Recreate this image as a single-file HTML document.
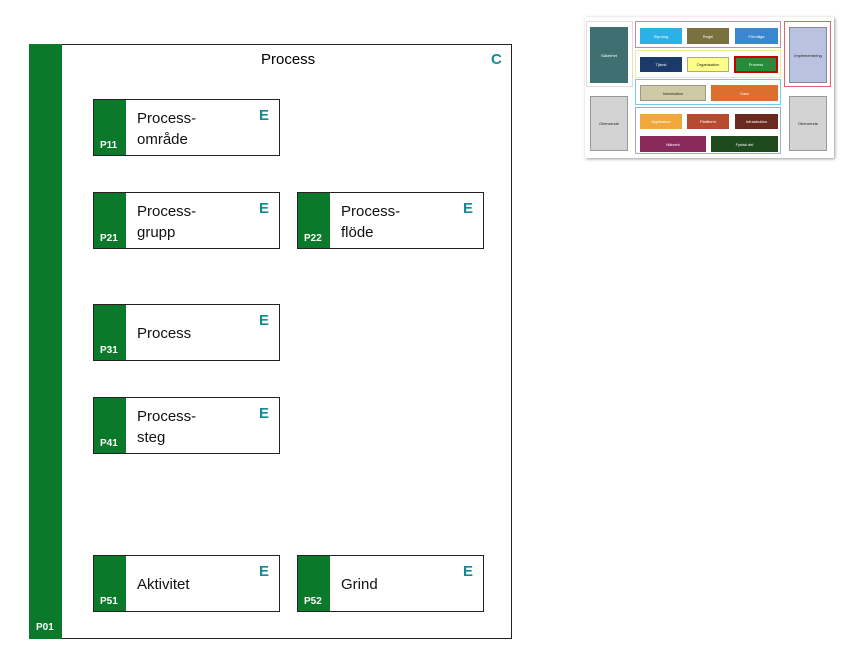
<!DOCTYPE html>
<html><head><meta charset="utf-8"><style>
body{margin:0;width:857px;height:664px;background:#fff;position:relative;font-family:"Liberation Sans",sans-serif;overflow:hidden}
.a{position:absolute;box-sizing:border-box}
.card{position:absolute;width:187px;height:57px;border:1px solid #222;background:#fff;box-sizing:border-box}
.card .g{position:absolute;left:0;top:0;bottom:0;width:32px;background:#0a7a2a}
.card .id{position:absolute;left:6px;bottom:4px;color:#fff;font-size:10px;font-weight:bold}
.card .t{position:absolute;left:43px;top:8px;font-size:15px;line-height:21px;color:#111}
.card .e{position:absolute;right:10px;top:7px;color:#148a94;font-weight:bold;font-size:15px}
.t1{line-height:57px!important;top:0!important}
.th div{position:absolute;box-sizing:border-box;font-size:4px;color:#fff;display:flex;align-items:center;justify-content:center;text-align:center}
.th .lbl{color:#333;font-size:3px;align-items:flex-start}
</style></head><body>
<div class="a" style="left:29px;top:44px;width:483px;height:595px;border:1px solid #222"></div>
<div class="a" style="left:29px;top:44px;width:33px;height:595px;background:#0a7a2a"></div>
<div class="a" style="left:36px;top:622px;color:#fff;font-size:10px;font-weight:bold">P01</div>
<div class="a" style="left:261px;top:51px;font-size:15px">Process</div>
<div class="a" style="left:491px;top:51px;font-size:15px;color:#148a94;font-weight:bold">C</div>

<div class="card" style="left:93px;top:99px"><div class="g"></div><div class="id">P11</div><div class="t">Process-<br>område</div><div class="e">E</div></div>
<div class="card" style="left:93px;top:192px"><div class="g"></div><div class="id">P21</div><div class="t">Process-<br>grupp</div><div class="e">E</div></div>
<div class="card" style="left:297px;top:192px"><div class="g"></div><div class="id">P22</div><div class="t">Process-<br>flöde</div><div class="e">E</div></div>
<div class="card" style="left:93px;top:304px"><div class="g"></div><div class="id">P31</div><div class="t t1">Process</div><div class="e">E</div></div>
<div class="card" style="left:93px;top:397px"><div class="g"></div><div class="id">P41</div><div class="t">Process-<br>steg</div><div class="e">E</div></div>
<div class="card" style="left:93px;top:555px"><div class="g"></div><div class="id">P51</div><div class="t t1">Aktivitet</div><div class="e">E</div></div>
<div class="card" style="left:297px;top:555px"><div class="g"></div><div class="id">P52</div><div class="t t1">Grind</div><div class="e">E</div></div>

<div class="a th" style="left:583px;top:15px;width:255px;height:145px">
<div style="left:2px;top:2px;width:249px;height:141px;background:#fff;box-shadow:1px 1px 3px #999"></div>
<div style="left:3px;top:6px;width:47px;height:66px;border:1px solid #ddd"></div>
<div style="left:7px;top:12px;width:38px;height:56px;background:#3f6f70">Säkerhet</div>
<div style="left:7px;top:81px;width:38px;height:55px;background:#d3d3d3;color:#222;border:1px solid #999">Oberoende</div>
<div style="left:201px;top:6px;width:47px;height:66px;border:1px solid #d66"></div>
<div style="left:206px;top:12px;width:38px;height:56px;background:#b9c3e0;color:#222;border:1px solid #889">Implementering</div>
<div style="left:206px;top:81px;width:38px;height:55px;background:#d3d3d3;color:#222;border:1px solid #999">Oberoende</div>
<div style="left:52px;top:6px;width:146px;height:27px;border:1px solid #c8a"></div>
<div style="left:57px;top:13px;width:42px;height:16px;background:#2cb0e8">Styrning</div>
<div style="left:104px;top:13px;width:42px;height:16px;background:#7a7040">Regel</div>
<div style="left:152px;top:13px;width:43px;height:16px;background:#3a86d0">Förmåga</div>
<div style="left:52px;top:35px;width:146px;height:28px;border:1px solid #ee9"></div>
<div style="left:57px;top:42px;width:42px;height:15px;background:#1a3a6a">Tjänst</div>
<div style="left:104px;top:42px;width:42px;height:15px;background:#ffff88;color:#222;border:1px solid #aa8">Organisation</div>
<div style="left:151px;top:41px;width:44px;height:17px;background:#2a8a3a;border:2px solid #c00">Process</div>
<div style="left:52px;top:64px;width:146px;height:26px;border:1px solid #7cd"></div>
<div style="left:57px;top:70px;width:66px;height:16px;background:#cfcaa6;color:#222;border:1px solid #998">Information</div>
<div style="left:128px;top:70px;width:67px;height:16px;background:#dc6e2e">Data</div>
<div style="left:52px;top:92px;width:146px;height:47px;border:1px solid #9ad"></div>
<div style="left:57px;top:99px;width:42px;height:15px;background:#f0a83a">Applikation</div>
<div style="left:104px;top:99px;width:42px;height:15px;background:#b84a30">Plattform</div>
<div style="left:152px;top:99px;width:43px;height:15px;background:#6a2a20">Infrastruktur</div>
<div style="left:57px;top:121px;width:66px;height:16px;background:#8a2a5a">Nätverk</div>
<div style="left:128px;top:121px;width:67px;height:16px;background:#1e4a1e">Fysisk del</div>
</div>
</body></html>
